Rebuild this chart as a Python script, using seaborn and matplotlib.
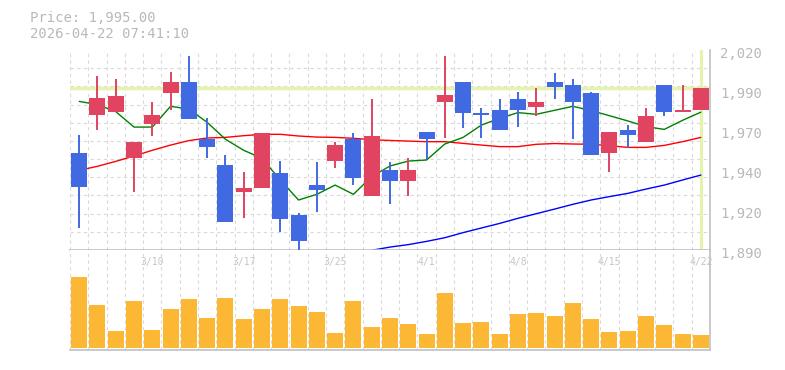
import matplotlib
matplotlib.use("Agg")
import matplotlib.pyplot as plt
from matplotlib.transforms import ScaledTranslation
import seaborn as sns
import pandas as pd
import numpy as np

# trading days shown (last 35 sessions)
dates = ["3/4", "3/5", "3/6", "3/9", "3/10", "3/11", "3/12", "3/13", "3/16", "3/17",
         "3/18", "3/19", "3/23", "3/24", "3/25", "3/26", "3/27", "3/30", "3/31", "4/1",
         "4/2", "4/3", "4/6", "4/7", "4/8", "4/9", "4/10", "4/13", "4/14", "4/15",
         "4/16", "4/17", "4/20", "4/21", "4/22"]

open_ = [1953, 1978, 1980, 1950, 1972, 1992, 1999, 1962, 1945, 1928,
         1930, 1940, 1913, 1932, 1948, 1962, 1925, 1942, 1935, 1967,
         1986, 1999, 1979, 1981, 1988, 1983, 1999, 1997, 1992, 1953,
         1968, 1960, 1997, 1980, 1981]
high = [1965, 2003, 2001, 1960, 1986, 2006, 2016, 1976, 1952, 1941,
        1966, 1948, 1914, 1947, 1960, 1966, 1988, 1947, 1950, 1967,
        2016, 1999, 1982, 1988, 1993, 1995, 2005, 2001, 1993, 1967,
        1971, 1982, 1997, 1997, 1995]
low = [1904, 1968, 1980, 1928, 1964, 1981, 1975, 1950, 1908, 1911,
       1930, 1902, 1890, 1915, 1943, 1932, 1925, 1920, 1925, 1949,
       1963, 1969, 1963, 1968, 1970, 1977, 1988, 1962, 1952, 1941,
       1956, 1960, 1977, 1980, 1981]
close = [1931, 1989, 1990, 1960, 1978, 1999, 1975, 1957, 1908, 1930,
         1966, 1910, 1896, 1929, 1958, 1937, 1964, 1935, 1942, 1962,
         1991, 1979, 1978, 1968, 1981, 1986, 1996, 1986, 1952, 1967,
         1965, 1977, 1980, 1981, 1995]

# moving averages
ma5 = [1986.6, 1984.5, 1980.0, 1969.9, 1969.9, 1983.4, 1981.6, 1973.0, 1962.0, 1954.8,
       1949.6, 1935.5, 1922.5, 1926.2, 1932.2, 1926.2, 1937.7, 1944.6, 1947.8, 1948.5,
       1958.9, 1963.2, 1971.2, 1975.6, 1979.3, 1978.2, 1980.8, 1983.4, 1980.6, 1977.3,
       1973.9, 1970.2, 1968.4, 1974.3, 1979.6]
ma25 = [1941.8, 1944.4, 1947.6, 1951.1, 1954.8, 1958.2, 1961.1, 1962.8, 1963.2, 1964.3,
        1965.2, 1965.2, 1964.1, 1963.4, 1963.2, 1962.6, 1961.7, 1961.2, 1960.8, 1960.4,
        1960.4, 1959.3, 1958.2, 1957.2, 1957.2, 1958.7, 1959.2, 1958.9, 1958.7, 1957.8,
        1956.7, 1956.7, 1958.0, 1960.4, 1963.2]
ma75 = [np.nan] * 16 + [1889.8, 1891.9, 1893.5, 1895.6, 1898.0, 1901.3, 1904.3, 1907.3,
                        1910.6, 1913.6, 1916.6, 1919.7, 1922.5, 1924.7, 1926.8, 1929.6,
                        1932.2, 1935.5, 1938.7]

volume = [213, 129, 51, 141, 54, 117, 147, 90, 150, 87,
          117, 147, 126, 108, 45, 141, 63, 90, 72, 42,
          165, 75, 78, 42, 102, 105, 96, 135, 87, 48,
          51, 96, 69, 42, 39]

ytick_vals = [2020, 1994, 1968, 1942, 1916, 1890]
ytick_labels = ["2,020", "1,990", "1,970", "1,940", "1,920", "1,890"]
date_ticks = ["3/10", "3/17", "3/25", "4/1", "4/8", "4/15", "4/22"]
last_price = 1995.00
stamp = "2026-04-22 07:41:10"

df = pd.DataFrame({"date": dates, "open": open_, "high": high, "low": low,
                   "close": close, "ma5": ma5, "ma25": ma25, "ma75": ma75,
                   "volume": volume})
df["x"] = np.arange(len(df))
df["up"] = df["close"] >= df["open"]

UP, DOWN = "#e04460", "#4169e1"
GRID = "#d9d9d9"
FRAME = "#c0c0c0"
TXT = "#b9b9b9"
HL = "#e4f4ac"

sns.set_style("white")
plt.rcParams["font.family"] = ["DejaVu Sans Mono", "DejaVu Sans"]

W, H = 785, 370
fig = plt.figure(figsize=(W / 100, H / 100), dpi=100)
ax = fig.add_axes([70 / W, 120 / H, 640 / W, 200 / H])
axv = fig.add_axes([70 / W, 20 / H, 640 / W, 100 / H])

n = len(df)
body_w = 0.877

# --- price panel
ax.axhline(last_price, color=HL, lw=2.5, zorder=1)
ax.axvline(df["x"].iloc[-1], color=HL, lw=2.3, zorder=1)

sns.lineplot(data=df, x="x", y="ma75", ax=ax, color="#0000ff", lw=1.0, zorder=2)
sns.lineplot(data=df, x="x", y="ma25", ax=ax, color="#ff0000", lw=1.0, zorder=2)
sns.lineplot(data=df, x="x", y="ma5", ax=ax, color="#008000", lw=1.0, zorder=2)

colors = np.where(df["up"], UP, DOWN)
ax.vlines(df["x"], df["low"], df["high"], colors=colors, lw=1.4, zorder=3)
body_lo = np.minimum(df["open"], df["close"])
body_h = np.maximum(np.abs(df["close"] - df["open"]), 0.6)
ax.bar(df["x"], body_h, bottom=body_lo, width=body_w, color=colors, lw=0, zorder=4)

ax.set_xlim(-0.5, n - 0.5)
ax.set_ylim(1890, 2020)
ax.set_xticks([])
ax.set_xticks(np.arange(-0.5, n, 1), minor=True)
ax.set_yticks(ytick_vals)
ax.set_yticklabels(ytick_labels)
ax.set_yticks(np.linspace(1890, 2020, 12), minor=True)
ax.yaxis.tick_right()
ax.tick_params(axis="y", which="both", length=0, pad=7.2, labelsize=10, labelcolor=TXT)
ax.tick_params(axis="x", which="both", length=0)
for lab in ax.get_yticklabels():
    lab.set_transform(lab.get_transform() + ScaledTranslation(0, -0.03, fig.dpi_scale_trans))
ax.grid(which="minor", ls=(0, (3, 3)), color=GRID, lw=0.8)
ax.grid(which="major", visible=False)
ax.set_axisbelow(True)
ax.set_xlabel("")
ax.set_ylabel("")
for s in ["left", "top"]:
    ax.spines[s].set_visible(False)
for s in ["right", "bottom"]:
    ax.spines[s].set_color(FRAME)
    ax.spines[s].set_linewidth(1.2)

# --- volume panel
sns.barplot(data=df, x="date", y="volume", ax=axv, color="#fcb734", saturation=1,
            width=body_w, errorbar=None, linewidth=0, zorder=3)
axv.set_xlim(-0.5, n - 0.5)
axv.set_ylim(-6, 294)
axv.set_yticks([])
tick_pos = [dates.index(d) for d in date_ticks]
axv.set_xticks(tick_pos)
axv.set_xticklabels(date_ticks)
axv.set_xticks(np.arange(-0.5, n, 1), minor=True)
axv.tick_params(axis="x", which="both", length=0, bottom=False, top=False,
                labelbottom=False, labeltop=True, pad=-12.5, labelsize=7, labelcolor="#c6c6c6")
axv.grid(which="minor", axis="x", ls=(0, (3, 3)), color=GRID, lw=0.8)
axv.grid(which="major", visible=False)
axv.set_axisbelow(True)
axv.set_xlabel("")
axv.set_ylabel("")
for s in ["left", "top"]:
    axv.spines[s].set_visible(False)
for s in ["right", "bottom"]:
    axv.spines[s].set_color(FRAME)
    axv.spines[s].set_linewidth(1.2)

# header
fig.text(30 / W, 1 - 22.5 / H, f"Price: {last_price:,.2f}", va="baseline", ha="left",
         fontsize=10, color=TXT)
fig.text(30 / W, 1 - 37.5 / H, stamp, va="baseline", ha="left", fontsize=10, color=TXT)

fig.savefig("out.png", dpi=100, facecolor="white")
